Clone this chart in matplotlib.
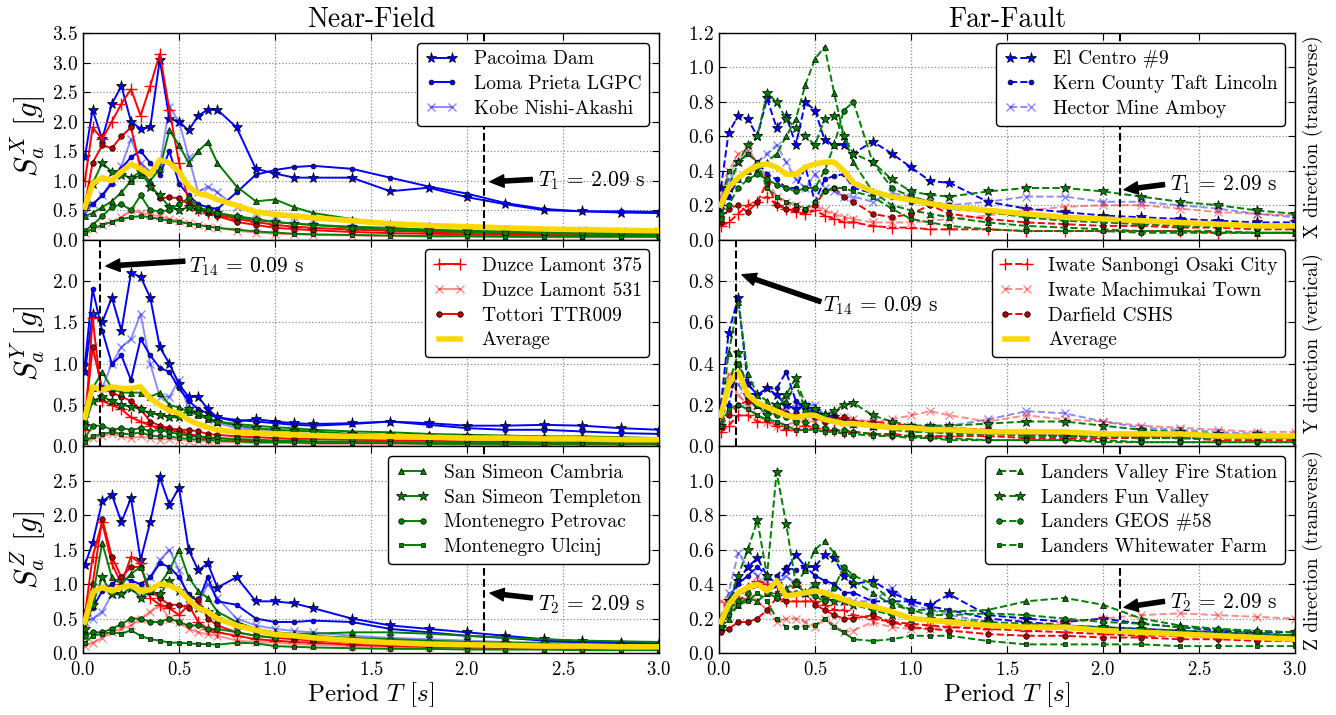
import matplotlib.pyplot as plt

plt.rcParams['font.family'] = ['cmr10', 'DejaVu Serif']
plt.rcParams['mathtext.fontset'] = 'cm'
plt.rcParams['axes.formatter.use_mathtext'] = True
plt.rcParams['axes.unicode_minus'] = False

period = [0.01, 0.05, 0.1, 0.15, 0.2, 0.25, 0.3, 0.35, 0.4, 0.45, 0.5, 0.55, 0.6, 0.65, 0.7,
          0.8, 0.9, 1.0, 1.1, 1.2, 1.4, 1.6, 1.8, 2.0, 2.2, 2.4, 2.6, 2.8, 3.0]

near_names = ['Pacoima Dam', 'Loma Prieta LGPC', 'Kobe Nishi-Akashi',
              'Duzce Lamont 375', 'Duzce Lamont 531', 'Tottori TTR009',
              'San Simeon Cambria', 'San Simeon Templeton',
              'Montenegro Petrovac', 'Montenegro Ulcinj']
far_names = ['El Centro #9', 'Kern County Taft Lincoln', 'Hector Mine Amboy',
             'Iwate Sanbongi Osaki City', 'Iwate Machimukai Town', 'Darfield CSHS',
             'Landers Valley Fire Station', 'Landers Fun Valley',
             'Landers GEOS #58', 'Landers Whitewater Farm']

# ---- near-field, X direction
pacoima_x = [1.40, 2.20, 1.70, 2.30, 2.60, 2.00, 1.88, 1.90, 3.05, 2.05, 2.00, 1.85, 2.10, 2.20, 2.20, 1.90, 1.20, 1.12, 1.05, 1.05, 1.05, 0.82, 0.88, 0.72, 0.60, 0.50, 0.48, 0.46, 0.45]
loma_x = [0.55, 0.60, 0.75, 0.95, 1.20, 1.40, 1.50, 1.30, 1.10, 1.50, 0.95, 0.75, 0.60, 0.55, 0.52, 0.80, 1.10, 1.18, 1.23, 1.25, 1.20, 1.05, 0.90, 0.78, 0.62, 0.52, 0.48, 0.48, 0.47]
kobe_x = [0.45, 0.60, 0.75, 1.00, 1.25, 1.70, 1.30, 1.15, 1.25, 2.25, 2.00, 1.40, 0.80, 0.90, 0.80, 0.55, 0.45, 0.40, 0.38, 0.35, 0.30, 0.25, 0.22, 0.20, 0.18, 0.17, 0.16, 0.15, 0.15]
duzce375_x = [1.00, 1.90, 1.70, 2.00, 2.30, 2.55, 2.10, 2.60, 3.15, 2.20, 1.30, 0.65, 0.50, 0.45, 0.42, 0.35, 0.30, 0.25, 0.22, 0.20, 0.17, 0.15, 0.13, 0.12, 0.11, 0.10, 0.10, 0.09, 0.09]
duzce531_x = [0.12, 0.18, 0.25, 0.30, 0.38, 0.50, 0.45, 0.42, 0.40, 0.35, 0.32, 0.28, 0.25, 0.22, 0.20, 0.15, 0.12, 0.10, 0.09, 0.08, 0.07, 0.06, 0.05, 0.05, 0.05, 0.04, 0.04, 0.04, 0.04]
tottori_x = [0.60, 1.30, 1.60, 1.55, 1.75, 1.90, 1.20, 0.95, 0.70, 0.72, 0.70, 0.60, 0.52, 0.45, 0.40, 0.30, 0.25, 0.20, 0.18, 0.16, 0.13, 0.11, 0.10, 0.09, 0.08, 0.08, 0.07, 0.07, 0.06]
cambria_x = [0.40, 0.45, 0.55, 0.65, 0.80, 1.00, 1.10, 1.00, 1.20, 1.85, 1.60, 1.30, 1.50, 1.65, 1.30, 0.90, 0.65, 0.68, 0.55, 0.45, 0.35, 0.28, 0.24, 0.20, 0.18, 0.16, 0.15, 0.14, 0.13]
templeton_x = [0.60, 0.95, 1.30, 1.15, 1.10, 1.05, 1.15, 0.90, 0.75, 0.55, 0.50, 0.55, 0.50, 0.48, 0.45, 0.38, 0.33, 0.30, 0.27, 0.25, 0.22, 0.20, 0.17, 0.15, 0.14, 0.13, 0.12, 0.11, 0.10]
petrovac_x = [0.15, 0.25, 0.40, 0.55, 0.60, 0.50, 0.75, 0.50, 0.48, 0.50, 0.60, 0.70, 0.55, 0.50, 0.45, 0.40, 0.35, 0.30, 0.27, 0.25, 0.20, 0.17, 0.15, 0.13, 0.12, 0.11, 0.10, 0.09, 0.09]
ulcinj_x = [0.12, 0.18, 0.25, 0.30, 0.35, 0.38, 0.40, 0.38, 0.35, 0.32, 0.30, 0.27, 0.25, 0.22, 0.20, 0.17, 0.14, 0.12, 0.10, 0.09, 0.08, 0.07, 0.06, 0.06, 0.05, 0.05, 0.05, 0.05, 0.05]
near_avg_x = [0.55, 0.95, 1.05, 1.00, 1.15, 1.28, 1.20, 1.10, 1.35, 1.30, 1.15, 0.90, 0.78, 0.75, 0.68, 0.58, 0.47, 0.43, 0.40, 0.37, 0.32, 0.27, 0.24, 0.22, 0.20, 0.18, 0.17, 0.16, 0.15]

# ---- near-field, Y direction
pacoima_y = [0.90, 1.60, 1.50, 1.80, 1.40, 2.10, 2.05, 1.80, 1.20, 1.00, 0.75, 0.60, 0.60, 0.45, 0.35, 0.30, 0.33, 0.30, 0.28, 0.27, 0.28, 0.30, 0.28, 0.25, 0.25, 0.26, 0.25, 0.22, 0.20]
loma_y = [1.00, 1.90, 1.40, 1.00, 1.10, 0.80, 1.30, 1.10, 0.95, 0.90, 0.70, 0.55, 0.45, 0.40, 0.35, 0.32, 0.30, 0.28, 0.26, 0.25, 0.27, 0.30, 0.26, 0.22, 0.20, 0.20, 0.18, 0.16, 0.15]
kobe_y = [0.40, 1.20, 0.70, 1.00, 1.20, 1.30, 1.60, 1.00, 0.60, 0.60, 0.80, 0.45, 0.40, 0.32, 0.28, 0.22, 0.20, 0.18, 0.16, 0.15, 0.14, 0.12, 0.11, 0.10, 0.10, 0.09, 0.09, 0.08, 0.08]
duzce375_y = [0.20, 1.55, 0.55, 0.50, 0.45, 0.35, 0.30, 0.25, 0.22, 0.20, 0.18, 0.15, 0.12, 0.10, 0.10, 0.08, 0.07, 0.06, 0.05, 0.05, 0.05, 0.04, 0.04, 0.04, 0.03, 0.03, 0.03, 0.03, 0.03]
duzce531_y = [0.05, 0.10, 0.12, 0.15, 0.12, 0.10, 0.12, 0.10, 0.08, 0.09, 0.08, 0.07, 0.06, 0.06, 0.05, 0.05, 0.04, 0.04, 0.04, 0.03, 0.03, 0.03, 0.03, 0.02, 0.02, 0.02, 0.02, 0.02, 0.02]
tottori_y = [0.30, 1.20, 0.70, 0.65, 0.60, 0.55, 0.45, 0.30, 0.25, 0.22, 0.20, 0.20, 0.18, 0.15, 0.14, 0.12, 0.11, 0.10, 0.09, 0.09, 0.08, 0.07, 0.07, 0.06, 0.06, 0.06, 0.05, 0.05, 0.05]
cambria_y = [0.30, 0.70, 0.90, 0.70, 0.65, 0.65, 0.65, 0.60, 0.65, 0.50, 0.47, 0.42, 0.38, 0.33, 0.30, 0.27, 0.25, 0.23, 0.22, 0.20, 0.18, 0.17, 0.15, 0.14, 0.13, 0.12, 0.12, 0.11, 0.10]
templeton_y = [0.25, 0.55, 0.60, 0.55, 0.50, 0.48, 0.45, 0.40, 0.38, 0.35, 0.35, 0.45, 0.40, 0.35, 0.30, 0.25, 0.22, 0.20, 0.19, 0.18, 0.15, 0.14, 0.13, 0.12, 0.11, 0.10, 0.10, 0.09, 0.09]
petrovac_y = [0.10, 0.25, 0.25, 0.20, 0.22, 0.20, 0.22, 0.18, 0.20, 0.17, 0.15, 0.13, 0.12, 0.11, 0.10, 0.09, 0.08, 0.07, 0.07, 0.06, 0.06, 0.05, 0.05, 0.05, 0.04, 0.04, 0.04, 0.04, 0.04]
ulcinj_y = [0.05, 0.12, 0.15, 0.17, 0.15, 0.15, 0.17, 0.13, 0.12, 0.12, 0.10, 0.09, 0.08, 0.08, 0.07, 0.06, 0.05, 0.05, 0.05, 0.04, 0.04, 0.04, 0.03, 0.03, 0.03, 0.03, 0.03, 0.03, 0.03]
near_avg_y = [0.35, 0.72, 0.68, 0.72, 0.70, 0.70, 0.72, 0.58, 0.50, 0.43, 0.40, 0.32, 0.27, 0.23, 0.20, 0.17, 0.16, 0.15, 0.14, 0.13, 0.12, 0.12, 0.11, 0.10, 0.10, 0.09, 0.09, 0.08, 0.08]

# ---- near-field, Z direction
pacoima_z = [1.28, 1.60, 2.20, 2.30, 1.90, 2.25, 1.35, 1.90, 2.55, 2.15, 2.40, 1.50, 1.20, 1.30, 0.95, 1.10, 0.75, 0.75, 0.72, 0.65, 0.50, 0.40, 0.35, 0.30, 0.25, 0.20, 0.17, 0.15, 0.14]
loma_z = [0.50, 0.65, 0.90, 1.00, 1.10, 1.05, 1.00, 1.10, 1.30, 1.25, 1.10, 0.85, 0.75, 1.10, 0.75, 0.70, 0.50, 0.45, 0.45, 0.47, 0.45, 0.35, 0.30, 0.25, 0.22, 0.18, 0.15, 0.13, 0.12]
kobe_z = [0.45, 0.50, 0.60, 0.85, 1.00, 0.95, 0.90, 1.10, 1.35, 1.50, 1.20, 0.75, 0.70, 1.00, 0.80, 0.50, 0.40, 0.35, 0.32, 0.30, 0.25, 0.22, 0.20, 0.18, 0.16, 0.15, 0.14, 0.13, 0.12]
duzce375_z = [0.55, 1.40, 1.90, 1.30, 1.00, 1.40, 1.30, 0.80, 0.70, 0.65, 0.55, 0.70, 0.45, 0.35, 0.30, 0.25, 0.20, 0.18, 0.16, 0.15, 0.12, 0.10, 0.09, 0.08, 0.07, 0.07, 0.06, 0.06, 0.06]
duzce531_z = [0.10, 0.15, 0.22, 0.30, 0.35, 0.40, 0.50, 0.60, 0.70, 0.50, 0.45, 0.35, 0.30, 0.27, 0.25, 0.18, 0.16, 0.15, 0.13, 0.12, 0.10, 0.09, 0.08, 0.07, 0.07, 0.06, 0.06, 0.05, 0.05]
tottori_z = [0.60, 1.00, 1.95, 1.40, 1.10, 1.25, 1.25, 0.90, 0.80, 0.70, 0.70, 0.65, 0.78, 0.50, 0.40, 0.30, 0.25, 0.22, 0.20, 0.18, 0.15, 0.12, 0.10, 0.09, 0.08, 0.08, 0.07, 0.07, 0.06]
cambria_z = [0.30, 0.80, 1.60, 1.10, 1.00, 1.15, 1.25, 0.90, 1.00, 1.20, 1.50, 1.10, 0.90, 0.80, 0.60, 0.45, 0.35, 0.30, 0.28, 0.28, 0.30, 0.30, 0.28, 0.25, 0.22, 0.20, 0.18, 0.17, 0.16]
templeton_z = [0.35, 0.70, 1.10, 0.85, 0.85, 0.95, 0.80, 0.90, 0.85, 1.05, 0.90, 0.80, 0.65, 0.60, 0.50, 0.40, 0.32, 0.28, 0.25, 0.22, 0.20, 0.18, 0.16, 0.15, 0.14, 0.13, 0.12, 0.11, 0.10]
petrovac_z = [0.25, 0.30, 0.30, 0.35, 0.42, 0.50, 0.50, 0.45, 0.45, 0.50, 0.45, 0.40, 0.40, 0.35, 0.35, 0.30, 0.25, 0.22, 0.25, 0.25, 0.22, 0.20, 0.18, 0.16, 0.15, 0.14, 0.13, 0.12, 0.12]
ulcinj_z = [0.15, 0.25, 0.28, 0.30, 0.28, 0.33, 0.25, 0.20, 0.18, 0.15, 0.15, 0.14, 0.13, 0.13, 0.12, 0.15, 0.14, 0.10, 0.09, 0.08, 0.07, 0.06, 0.06, 0.05, 0.05, 0.05, 0.04, 0.04, 0.04]
near_avg_z = [0.45, 0.88, 0.95, 0.90, 0.95, 0.98, 0.90, 0.92, 1.00, 0.98, 0.92, 0.78, 0.65, 0.60, 0.50, 0.40, 0.33, 0.27, 0.25, 0.22, 0.18, 0.15, 0.13, 0.12, 0.11, 0.10, 0.10, 0.09, 0.09]

# ---- far-fault, X direction
elcentro_x = [0.30, 0.62, 0.72, 0.70, 0.60, 0.82, 0.65, 0.72, 0.55, 0.80, 0.75, 0.58, 0.55, 0.55, 0.50, 0.57, 0.50, 0.42, 0.34, 0.33, 0.22, 0.18, 0.16, 0.14, 0.13, 0.12, 0.11, 0.10, 0.10]
kern_x = [0.18, 0.25, 0.35, 0.40, 0.45, 0.38, 0.35, 0.30, 0.30, 0.42, 0.22, 0.35, 0.37, 0.38, 0.30, 0.27, 0.25, 0.22, 0.20, 0.18, 0.16, 0.14, 0.12, 0.11, 0.10, 0.10, 0.09, 0.08, 0.08]
hector_x = [0.20, 0.35, 0.45, 0.50, 0.45, 0.50, 0.55, 0.45, 0.35, 0.30, 0.38, 0.30, 0.28, 0.25, 0.25, 0.22, 0.27, 0.25, 0.22, 0.20, 0.22, 0.25, 0.25, 0.22, 0.22, 0.20, 0.18, 0.15, 0.13]
sanbongi_x = [0.08, 0.10, 0.15, 0.20, 0.22, 0.25, 0.20, 0.18, 0.16, 0.15, 0.17, 0.14, 0.12, 0.10, 0.10, 0.08, 0.07, 0.07, 0.06, 0.06, 0.06, 0.05, 0.05, 0.05, 0.05, 0.05, 0.04, 0.04, 0.04]
machimukai_x = [0.25, 0.40, 0.50, 0.52, 0.45, 0.35, 0.25, 0.22, 0.20, 0.18, 0.20, 0.17, 0.15, 0.13, 0.12, 0.10, 0.10, 0.10, 0.11, 0.12, 0.14, 0.17, 0.19, 0.20, 0.20, 0.18, 0.16, 0.15, 0.14]
darfield_x = [0.10, 0.18, 0.20, 0.16, 0.22, 0.33, 0.20, 0.18, 0.18, 0.17, 0.20, 0.28, 0.30, 0.25, 0.22, 0.15, 0.13, 0.15, 0.20, 0.15, 0.12, 0.10, 0.09, 0.08, 0.08, 0.07, 0.07, 0.06, 0.06]
firestation_x = [0.20, 0.30, 0.35, 0.40, 0.40, 0.45, 0.50, 0.60, 0.70, 0.90, 1.05, 1.12, 0.85, 0.60, 0.45, 0.28, 0.20, 0.17, 0.15, 0.13, 0.10, 0.08, 0.07, 0.06, 0.05, 0.05, 0.05, 0.04, 0.04]
funvalley_x = [0.15, 0.30, 0.45, 0.55, 0.60, 0.85, 0.80, 0.70, 0.65, 0.60, 0.55, 0.70, 0.72, 0.60, 0.50, 0.45, 0.35, 0.28, 0.26, 0.25, 0.28, 0.30, 0.30, 0.28, 0.25, 0.22, 0.20, 0.17, 0.15]
geos_x = [0.12, 0.20, 0.30, 0.35, 0.38, 0.35, 0.32, 0.30, 0.28, 0.30, 0.30, 0.40, 0.55, 0.75, 0.80, 0.45, 0.30, 0.25, 0.22, 0.20, 0.16, 0.13, 0.11, 0.10, 0.09, 0.08, 0.08, 0.07, 0.07]
whitewater_x = [0.20, 0.40, 0.45, 0.50, 0.45, 0.30, 0.25, 0.22, 0.20, 0.18, 0.22, 0.28, 0.30, 0.30, 0.28, 0.25, 0.18, 0.12, 0.10, 0.08, 0.06, 0.05, 0.05, 0.05, 0.04, 0.04, 0.04, 0.04, 0.04]
far_avg_x = [0.20, 0.30, 0.36, 0.40, 0.43, 0.44, 0.42, 0.38, 0.38, 0.42, 0.44, 0.45, 0.45, 0.40, 0.33, 0.28, 0.25, 0.23, 0.21, 0.19, 0.17, 0.15, 0.13, 0.12, 0.11, 0.10, 0.09, 0.08, 0.08]

# ---- far-fault, Y direction
elcentro_y = [0.20, 0.55, 0.72, 0.30, 0.25, 0.28, 0.25, 0.20, 0.18, 0.20, 0.17, 0.15, 0.14, 0.13, 0.12, 0.10, 0.09, 0.08, 0.07, 0.07, 0.06, 0.06, 0.05, 0.05, 0.05, 0.04, 0.04, 0.04, 0.04]
kern_y = [0.15, 0.20, 0.40, 0.30, 0.25, 0.28, 0.28, 0.36, 0.22, 0.18, 0.16, 0.15, 0.14, 0.13, 0.12, 0.10, 0.09, 0.08, 0.07, 0.07, 0.06, 0.06, 0.05, 0.05, 0.04, 0.04, 0.04, 0.04, 0.04]
hector_y = [0.10, 0.30, 0.30, 0.22, 0.20, 0.18, 0.17, 0.18, 0.20, 0.20, 0.20, 0.15, 0.13, 0.12, 0.11, 0.10, 0.10, 0.10, 0.10, 0.10, 0.13, 0.17, 0.16, 0.12, 0.09, 0.08, 0.07, 0.06, 0.05]
sanbongi_y = [0.07, 0.10, 0.15, 0.15, 0.12, 0.12, 0.10, 0.08, 0.08, 0.10, 0.09, 0.08, 0.08, 0.07, 0.07, 0.06, 0.06, 0.05, 0.05, 0.05, 0.05, 0.04, 0.04, 0.04, 0.04, 0.04, 0.03, 0.03, 0.03]
machimukai_y = [0.12, 0.35, 0.25, 0.20, 0.15, 0.12, 0.10, 0.10, 0.12, 0.12, 0.12, 0.13, 0.13, 0.14, 0.13, 0.12, 0.13, 0.15, 0.17, 0.15, 0.12, 0.15, 0.13, 0.12, 0.10, 0.09, 0.08, 0.07, 0.07]
darfield_y = [0.10, 0.15, 0.20, 0.22, 0.20, 0.18, 0.20, 0.16, 0.15, 0.15, 0.14, 0.12, 0.13, 0.14, 0.12, 0.12, 0.11, 0.10, 0.09, 0.09, 0.08, 0.07, 0.06, 0.06, 0.05, 0.05, 0.05, 0.04, 0.04]
firestation_y = [0.15, 0.45, 0.70, 0.35, 0.25, 0.22, 0.20, 0.22, 0.30, 0.18, 0.15, 0.14, 0.13, 0.12, 0.11, 0.10, 0.08, 0.07, 0.07, 0.06, 0.06, 0.05, 0.05, 0.05, 0.04, 0.04, 0.04, 0.04, 0.04]
funvalley_y = [0.10, 0.30, 0.45, 0.25, 0.20, 0.15, 0.20, 0.25, 0.33, 0.20, 0.18, 0.15, 0.17, 0.20, 0.21, 0.15, 0.12, 0.10, 0.10, 0.10, 0.11, 0.12, 0.12, 0.10, 0.08, 0.07, 0.06, 0.06, 0.05]
geos_y = [0.18, 0.30, 0.40, 0.25, 0.20, 0.18, 0.15, 0.14, 0.12, 0.12, 0.10, 0.09, 0.08, 0.08, 0.07, 0.06, 0.05, 0.05, 0.04, 0.04, 0.03, 0.03, 0.03, 0.03, 0.02, 0.02, 0.02, 0.02, 0.02]
whitewater_y = [0.10, 0.18, 0.20, 0.18, 0.15, 0.13, 0.12, 0.10, 0.08, 0.08, 0.08, 0.07, 0.07, 0.06, 0.06, 0.05, 0.05, 0.04, 0.04, 0.03, 0.03, 0.03, 0.03, 0.02, 0.02, 0.02, 0.02, 0.02, 0.02]
far_avg_y = [0.15, 0.30, 0.36, 0.25, 0.21, 0.19, 0.17, 0.15, 0.14, 0.15, 0.15, 0.13, 0.12, 0.11, 0.11, 0.10, 0.09, 0.09, 0.08, 0.08, 0.07, 0.07, 0.07, 0.06, 0.06, 0.06, 0.05, 0.05, 0.05]

# ---- far-fault, Z direction
elcentro_z = [0.20, 0.30, 0.42, 0.50, 0.55, 0.45, 0.40, 0.48, 0.57, 0.50, 0.50, 0.57, 0.55, 0.45, 0.40, 0.42, 0.35, 0.30, 0.28, 0.34, 0.22, 0.20, 0.18, 0.20, 0.17, 0.15, 0.13, 0.12, 0.12]
kern_z = [0.15, 0.30, 0.40, 0.45, 0.50, 0.45, 0.45, 0.50, 0.48, 0.50, 0.45, 0.42, 0.40, 0.35, 0.35, 0.30, 0.30, 0.30, 0.27, 0.25, 0.20, 0.18, 0.16, 0.15, 0.14, 0.13, 0.12, 0.11, 0.10]
hector_z = [0.20, 0.35, 0.58, 0.50, 0.45, 0.42, 0.40, 0.45, 0.40, 0.35, 0.38, 0.35, 0.32, 0.30, 0.30, 0.30, 0.38, 0.28, 0.25, 0.22, 0.18, 0.15, 0.14, 0.13, 0.12, 0.11, 0.10, 0.10, 0.09]
sanbongi_z = [0.15, 0.28, 0.32, 0.38, 0.42, 0.40, 0.35, 0.30, 0.30, 0.30, 0.30, 0.28, 0.25, 0.25, 0.22, 0.20, 0.18, 0.17, 0.16, 0.15, 0.14, 0.13, 0.12, 0.11, 0.10, 0.10, 0.09, 0.09, 0.08]
machimukai_z = [0.30, 0.28, 0.30, 0.32, 0.30, 0.25, 0.18, 0.20, 0.20, 0.18, 0.15, 0.20, 0.16, 0.12, 0.13, 0.18, 0.15, 0.14, 0.14, 0.15, 0.15, 0.16, 0.18, 0.20, 0.22, 0.23, 0.22, 0.21, 0.20]
darfield_z = [0.12, 0.14, 0.18, 0.18, 0.20, 0.25, 0.32, 0.30, 0.42, 0.35, 0.28, 0.25, 0.22, 0.20, 0.20, 0.22, 0.18, 0.15, 0.14, 0.13, 0.11, 0.10, 0.10, 0.09, 0.09, 0.08, 0.08, 0.07, 0.07]
firestation_z = [0.15, 0.20, 0.28, 0.32, 0.30, 0.35, 0.35, 0.38, 0.40, 0.48, 0.60, 0.65, 0.58, 0.48, 0.42, 0.35, 0.28, 0.25, 0.25, 0.24, 0.25, 0.30, 0.32, 0.28, 0.20, 0.16, 0.14, 0.12, 0.10]
funvalley_z = [0.15, 0.30, 0.45, 0.60, 0.77, 0.45, 1.05, 0.75, 0.40, 0.35, 0.40, 0.32, 0.30, 0.30, 0.28, 0.25, 0.22, 0.20, 0.20, 0.19, 0.18, 0.17, 0.16, 0.15, 0.14, 0.13, 0.12, 0.11, 0.10]
geos_z = [0.15, 0.25, 0.30, 0.35, 0.40, 0.35, 0.32, 0.35, 0.35, 0.35, 0.33, 0.30, 0.38, 0.50, 0.45, 0.40, 0.30, 0.25, 0.22, 0.22, 0.23, 0.22, 0.20, 0.18, 0.17, 0.15, 0.14, 0.13, 0.12]
whitewater_z = [0.15, 0.22, 0.28, 0.30, 0.35, 0.30, 0.20, 0.15, 0.15, 0.15, 0.16, 0.20, 0.15, 0.12, 0.08, 0.07, 0.08, 0.10, 0.10, 0.10, 0.07, 0.05, 0.05, 0.05, 0.05, 0.04, 0.04, 0.04, 0.04]
far_avg_z = [0.18, 0.28, 0.35, 0.38, 0.40, 0.36, 0.42, 0.33, 0.34, 0.35, 0.36, 0.35, 0.33, 0.31, 0.29, 0.27, 0.24, 0.20, 0.19, 0.18, 0.16, 0.15, 0.15, 0.13, 0.12, 0.11, 0.10, 0.09, 0.08]

near_sets = [
    [pacoima_x, loma_x, kobe_x, duzce375_x, duzce531_x, tottori_x, cambria_x, templeton_x, petrovac_x, ulcinj_x],
    [pacoima_y, loma_y, kobe_y, duzce375_y, duzce531_y, tottori_y, cambria_y, templeton_y, petrovac_y, ulcinj_y],
    [pacoima_z, loma_z, kobe_z, duzce375_z, duzce531_z, tottori_z, cambria_z, templeton_z, petrovac_z, ulcinj_z],
]
far_sets = [
    [elcentro_x, kern_x, hector_x, sanbongi_x, machimukai_x, darfield_x, firestation_x, funvalley_x, geos_x, whitewater_x],
    [elcentro_y, kern_y, hector_y, sanbongi_y, machimukai_y, darfield_y, firestation_y, funvalley_y, geos_y, whitewater_y],
    [elcentro_z, kern_z, hector_z, sanbongi_z, machimukai_z, darfield_z, firestation_z, funvalley_z, geos_z, whitewater_z],
]
near_avgs = [near_avg_x, near_avg_y, near_avg_z]
far_avgs = [far_avg_x, far_avg_y, far_avg_z]

# marker style per record slot (same for near-field and far-fault)
styles = [
    dict(color='b', marker='*', ms=8, mec='k', mew=0.5),
    dict(color='b', marker='o', ms=3.5, mec='k', mew=0.5),
    dict(color='b', marker='x', ms=6, alpha=0.45),
    dict(color='r', marker='+', ms=8),
    dict(color='r', marker='x', ms=6, alpha=0.45),
    dict(color='r', marker='o', mfc='#b00000', ms=4, mec='k', mew=0.5),
    dict(color='g', marker='^', ms=4, mec='k', mew=0.5),
    dict(color='g', marker='*', ms=7, mec='k', mew=0.5),
    dict(color='g', marker='o', ms=4, mec='k', mew=0.5),
    dict(color='g', marker='s', ms=3.5, mec='k', mew=0.5),
]
legend_slots = [[0, 1, 2], [3, 4, 5], [6, 7, 8, 9]]

ylims = [[3.5, 2.5, 3.0], [1.2, 1.0, 1.2]]
yticks_near = [[0, 0.5, 1.0, 1.5, 2.0, 2.5, 3.0, 3.5], [0, 0.5, 1.0, 1.5, 2.0], [0, 0.5, 1.0, 1.5, 2.0, 2.5]]
yticks_far = [[0, 0.2, 0.4, 0.6, 0.8, 1.0, 1.2], [0, 0.2, 0.4, 0.6, 0.8], [0, 0.2, 0.4, 0.6, 0.8, 1.0]]
ylabels = [r'$S_a^X\ [g]$', r'$S_a^Y\ [g]$', r'$S_a^Z\ [g]$']
dir_labels = ['X direction (transverse)', 'Y direction (vertical)', 'Z direction (transverse)']

# period marker lines and their annotations: (x_line, text, text_xy, arrow_tail, arrow_head)
near_marks = [
    (2.09, r'$T_1$ = 2.09 s', (2.37, 1.00), (2.34, 1.02), (2.12, 0.98)),
    (0.09, r'$T_{14}$ = 0.09 s', (0.55, 2.17), (0.53, 2.24), (0.12, 2.18)),
    (2.09, r'$T_2$ = 2.09 s', (2.37, 0.70), (2.34, 0.80), (2.12, 0.87)),
]
far_marks = [
    (2.09, r'$T_1$ = 2.09 s', (2.35, 0.32), (2.32, 0.32), (2.11, 0.29)),
    (0.09, r'$T_{14}$ = 0.09 s', (0.54, 0.68), (0.53, 0.70), (0.12, 0.83)),
    (2.09, r'$T_2$ = 2.09 s', (2.35, 0.29), (2.32, 0.30), (2.11, 0.265)),
]

fig = plt.figure(figsize=(13.36, 7.15), dpi=100)
W = 576 / 1336
H = 620 / 715 / 3
y0 = 1 - 653 / 715
lefts = [83 / 1336, 719 / 1336]

for col in range(2):
    names = near_names if col == 0 else far_names
    sets = near_sets if col == 0 else far_sets
    avgs = near_avgs if col == 0 else far_avgs
    marks = near_marks if col == 0 else far_marks
    yt = yticks_near if col == 0 else yticks_far
    ls = '-' if col == 0 else '--'
    for row in range(3):
        ax = fig.add_axes([lefts[col], y0 + (2 - row) * H, W, H])
        lines = []
        for k, vals in enumerate(sets[row]):
            ln, = ax.plot(period, vals, ls=ls, lw=1.4, label=names[k], **styles[k])
            lines.append(ln)
        avg_line, = ax.plot(period, avgs[row], color='#FFD700', lw=4, label='Average', zorder=5)

        xline, txt, txy, tail, head = marks[row]
        ax.axvline(xline, color='k', ls='--', lw=1.5, zorder=6)
        ax.annotate('', xy=head, xytext=tail,
                    arrowprops=dict(facecolor='k', edgecolor='k', width=3, headwidth=9,
                                    headlength=10, shrink=0.0), zorder=7)
        ax.text(txy[0], txy[1], txt, fontsize=15.5, ha='left', va='center', zorder=7)

        handles = [lines[k] for k in legend_slots[row]]
        if row == 1:
            handles.append(avg_line)
        leg = ax.legend(handles=handles, loc='upper right', fontsize=14, numpoints=2,
                        handlelength=1.7, fancybox=True, framealpha=1,
                        edgecolor='k', borderaxespad=0.5, labelspacing=0.35)
        leg.get_frame().set_linewidth(1.0)
        leg.set_zorder(10)

        ax.set_xlim(0, 3.0)
        ax.set_ylim(0, ylims[col][row])
        ax.set_xticks([0, 0.5, 1.0, 1.5, 2.0, 2.5, 3.0])
        ax.set_yticks(yt[row])
        ax.grid(True, color='0.55', ls=':', lw=0.9)
        ax.tick_params(direction='in', top=True, right=True, labelsize=14, length=5)
        ax.tick_params(axis='x', pad=6, labelsize=13.5)
        for sp in ax.spines.values():
            sp.set_linewidth(1.0)
        if row < 2:
            ax.tick_params(labelbottom=False)
        else:
            ax.set_xlabel(r'Period $T$ [$s$]', fontsize=18, labelpad=1)
        if col == 0:
            ax.set_ylabel(ylabels[row], fontsize=22, labelpad=4)
        else:
            ax.yaxis.set_label_position('right')
            ax.set_ylabel(dir_labels[row], fontsize=14, rotation=90, labelpad=6)
        if row == 0:
            ax.set_title('Near-Field' if col == 0 else 'Far-Fault', fontsize=20, pad=4)

fig.savefig('out.png', dpi=100)
